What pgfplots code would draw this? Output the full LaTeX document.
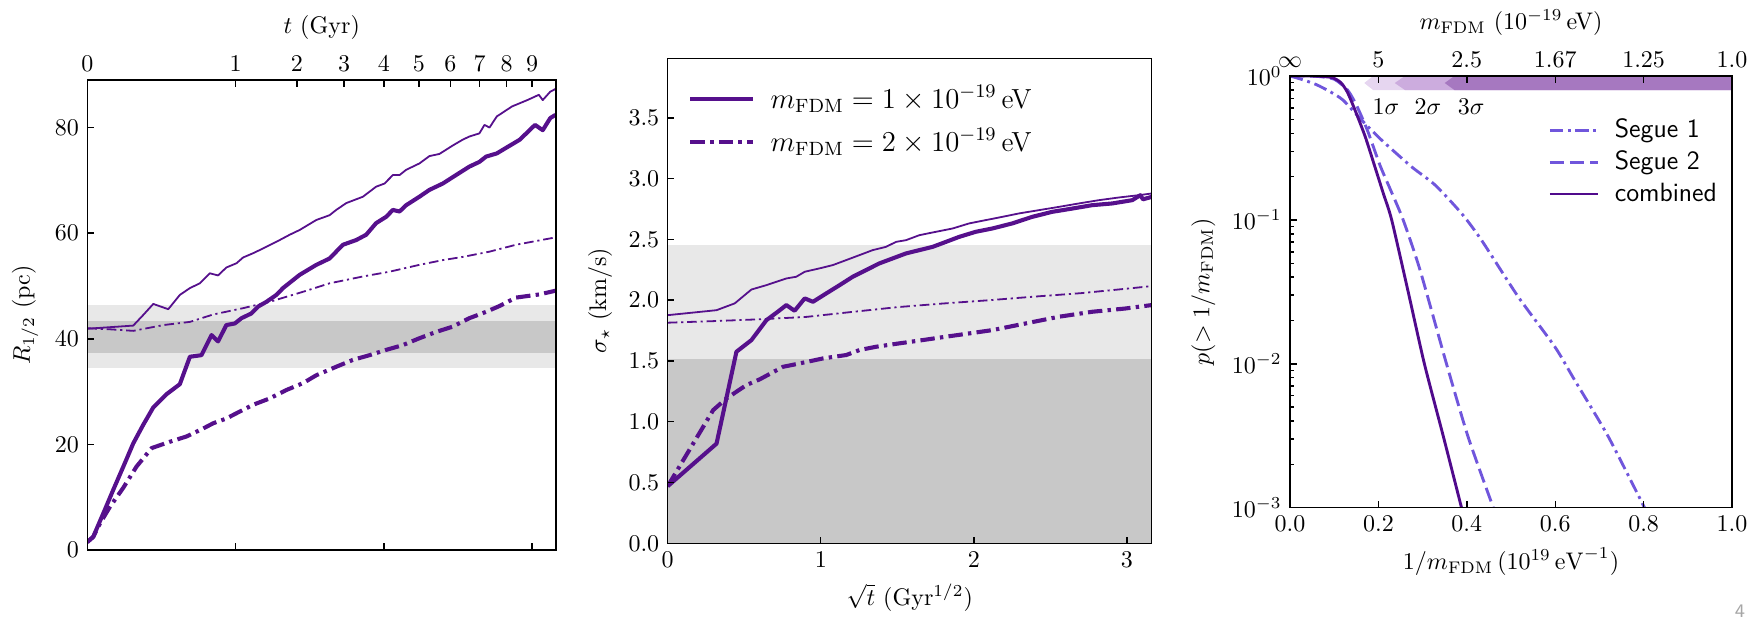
\documentclass[border=0pt]{standalone}
\usepackage{pgfplots}
\pgfplotsset{compat=1.18}
\definecolor{pur}{RGB}{86,16,140}
\definecolor{seg}{RGB}{112,86,220}
\definecolor{comb}{RGB}{80,10,140}
\definecolor{lgray}{RGB}{232,232,232}
\definecolor{dgray}{RGB}{200,200,200}
\definecolor{bandA}{RGB}{230,214,240}
\definecolor{bandB}{RGB}{204,172,222}
\definecolor{bandC}{RGB}{166,120,192}
\pgfplotsset{
  base/.style={
    scale only axis, anchor=south west,
    axis line style={line width=0.6pt},
    every tick/.append style={black, line width=0.6pt},
    major tick length=2.8pt, minor tick length=1.6pt,
    tick align=inside,
  },
}
\tikzset{
  thickS/.style={pur, line width=1.7pt, line join=round},
  thinS/.style={pur, line width=0.75pt, line join=round},
  thickD/.style={pur, line width=1.7pt, dash pattern=on 6pt off 2.2pt on 1.4pt off 2.2pt},
  thinD/.style={pur, line width=0.75pt, dash pattern=on 4pt off 1.6pt on 0.9pt off 1.6pt},
}
\begin{document}
\begin{tikzpicture}
\path[use as bounding box] (0,0) rectangle (733.33pt,257.92pt);
% ---------------- Panel 1 ----------------
\begin{axis}[base, at={(36.38pt,28.75pt)}, width=195.33pt, height=195.83pt,
  xmin=0, xmax=3.16228, ymin=0, ymax=89,
  xtick={1,2,3}, xticklabels={}, xtick pos=bottom,
  ytick={0,20,40,60,80}, ytick pos=left,
  ylabel={$R_{1/2}$ (pc)}, axis on top]
\addplot[fill=lgray, draw=none, forget plot] coordinates {(0,34.5) (3.16228,34.5) (3.16228,46.4) (0,46.4)};
\addplot[fill=dgray, draw=none, forget plot] coordinates {(0,37.4) (3.16228,37.4) (3.16228,43.4) (0,43.4)};
\addplot[thinS] coordinates {(0,41.9) (0.31,42.5) (0.377,44.5) (0.445,46.6) (0.546,45.6) (0.624,48.3) (0.692,49.6) (0.759,50.5) (0.826,52.4) (0.882,52.0) (0.938,53.5) (1.006,54.3) (1.051,55.4) (1.118,56.2) (1.185,57.1) (1.298,58.7) (1.365,59.7) (1.432,60.6) (1.545,62.5) (1.634,63.4) (1.679,64.4) (1.747,65.7) (1.859,66.9) (1.948,68.8) (2.005,69.4) (2.061,71.0) (2.106,71.0) (2.151,72.0) (2.240,73.2) (2.308,74.6) (2.375,75.0) (2.465,76.6) (2.532,77.7) (2.577,78.3) (2.645,78.9) (2.679,80.5) (2.713,80.0) (2.762,82.1) (2.865,84.0) (2.968,85.2) (3.046,86.2) (3.072,85.2) (3.123,86.8) (3.158,87.3)};
\addplot[thinD] coordinates {(0,42.0) (0.15,41.8) (0.31,41.5) (0.514,42.6) (0.692,43.2) (0.849,44.6) (1.051,45.8) (1.230,47.0) (1.455,48.9) (1.634,50.5) (1.859,51.8) (2.038,52.7) (2.240,54.0) (2.398,54.9) (2.532,55.5) (2.713,56.5) (2.891,57.8) (3.158,59.2)};
\addplot[thickD] coordinates {(0,1.5) (0.04,2.5) (0.085,5.0) (0.153,8.2) (0.243,11.8) (0.332,15.8) (0.434,19.3) (0.557,20.5) (0.669,21.5) (0.781,23.0) (0.849,24.0) (0.938,24.9) (1.006,25.9) (1.118,27.5) (1.230,28.7) (1.343,30.3) (1.455,31.6) (1.545,33.1) (1.679,34.7) (1.791,36.0) (1.904,36.9) (2.016,37.9) (2.128,38.8) (2.240,40.1) (2.353,41.3) (2.465,42.3) (2.577,43.9) (2.690,45.1) (2.78,46.2) (2.891,47.8) (3.05,48.4) (3.158,49.1)};
\addplot[thickS] coordinates {(0,1.5) (0.040,2.5) (0.108,6.95) (0.175,11.4) (0.243,15.8) (0.310,20.2) (0.377,23.7) (0.445,27.0) (0.534,29.5) (0.624,31.4) (0.692,36.6) (0.770,36.9) (0.838,40.7) (0.882,39.5) (0.938,42.6) (0.995,42.9) (1.040,43.9) (1.107,44.8) (1.152,46.1) (1.208,47.0) (1.275,48.3) (1.320,49.6) (1.432,52.1) (1.545,54.0) (1.634,55.2) (1.724,57.8) (1.814,58.7) (1.881,59.7) (1.948,61.9) (2.016,63.1) (2.061,64.4) (2.106,64.1) (2.151,65.3) (2.240,66.9) (2.308,68.2) (2.398,69.4) (2.487,71.0) (2.577,72.6) (2.645,73.5) (2.690,74.5) (2.762,75.1) (2.917,77.7) (3.020,80.5) (3.072,79.5) (3.123,81.8) (3.158,82.4)};
\end{axis}
\begin{axis}[base, at={(36.38pt,28.75pt)}, width=195.33pt, height=195.83pt,
  xmin=0, xmax=3.16228, ymin=0, ymax=89,
  axis x line*=top, axis y line=none, xtick align=inside,
  xtick={0,1,1.41421,1.73205,2,2.23607,2.44949,2.64575,2.82843,3},
  xticklabels={$0$,$1$,$2$,$3$,$4$,$5$,$6$,$7$,$8$,$9$},
  xlabel={$t$ (Gyr)}]
\end{axis}
% ---------------- Panel 2 ----------------
\begin{axis}[base, at={(278.21pt,31.54pt)}, width=201.67pt, height=202.08pt,
  xmin=0, xmax=3.16228, ymin=0, ymax=3.99,
  xtick={0,1,2,3}, xtick pos=bottom,
  ytick={0,0.5,1,1.5,2,2.5,3,3.5}, ytick pos=left,
  yticklabel style={/pgf/number format/.cd, fixed, fixed zerofill, precision=1},
  xlabel={$\sqrt{t}$ (Gyr$^{1/2}$)}, ylabel={$\sigma_\star$ (km/s)},
  axis on top,
  legend style={draw=none, fill=none, at={(0.027,0.965)}, anchor=north west, row sep=3pt,
    font=\fontsize{11.5}{13}\selectfont,
    /tikz/every odd column/.append style={column sep=4.5pt}},
  legend cell align=left,
  legend image code/.code={\draw[#1] (0pt,0pt) -- (26pt,0pt);}]
\addplot[fill=lgray, draw=none, forget plot] coordinates {(0,0) (3.16228,0) (3.16228,2.453) (0,2.453)};
\addplot[fill=dgray, draw=none, forget plot] coordinates {(0,0) (3.16228,0) (3.16228,1.513) (0,1.513)};
\addplot[thinS, forget plot] coordinates {(0,1.877) (0.319,1.918) (0.438,1.974) (0.547,2.088) (0.645,2.124) (0.775,2.179) (0.840,2.193) (0.895,2.234) (0.992,2.262) (1.079,2.289) (1.166,2.330) (1.253,2.371) (1.339,2.412) (1.426,2.439) (1.492,2.48) (1.557,2.494) (1.644,2.535) (1.753,2.563) (1.861,2.59) (1.970,2.632) (2.078,2.659) (2.187,2.686) (2.295,2.714) (2.426,2.741) (2.556,2.768) (2.686,2.796) (2.817,2.823) (2.947,2.845) (3.077,2.864) (3.162,2.878)};
\addplot[thinD, forget plot] coordinates {(0,1.815) (0.3,1.828) (0.6,1.843) (0.9,1.862) (1.2,1.903) (1.5,1.943) (1.8,1.973) (2.1,2.0) (2.4,2.03) (2.7,2.058) (3.0,2.095) (3.162,2.116)};
\addplot[thickS] coordinates {(0,0.47) (0.319,0.82) (0.449,1.576) (0.547,1.672) (0.645,1.836) (0.720,1.906) (0.775,1.96) (0.829,1.913) (0.895,2.015) (0.949,1.987) (1.036,2.056) (1.123,2.124) (1.209,2.193) (1.296,2.248) (1.383,2.303) (1.470,2.344) (1.557,2.385) (1.644,2.412) (1.731,2.439) (1.818,2.48) (1.904,2.521) (2.013,2.563) (2.121,2.59) (2.252,2.632) (2.382,2.686) (2.512,2.727) (2.643,2.754) (2.774,2.782) (2.904,2.796) (3.035,2.823) (3.088,2.864) (3.105,2.83) (3.162,2.85)};
\addlegendentry{$m_{\rm FDM} = 1\times10^{-19}\,$eV}
\addplot[thickD] coordinates {(0,0.47) (0.297,1.096) (0.384,1.192) (0.514,1.302) (0.601,1.349) (0.753,1.452) (0.862,1.48) (1.014,1.521) (1.166,1.549) (1.253,1.590) (1.361,1.617) (1.513,1.645) (1.666,1.672) (1.818,1.70) (1.904,1.715) (2.121,1.754) (2.339,1.809) (2.556,1.864) (2.774,1.905) (2.991,1.932) (3.162,1.96)};
\addlegendentry{$m_{\rm FDM} = 2\times10^{-19}\,$eV}
\end{axis}
% ---------------- Panel 3 ----------------
\begin{axis}[base, at={(537.5pt,46.38pt)}, width=184.17pt, height=179.88pt,
  xmin=0, xmax=1, ymode=log, ymin=1e-3, ymax=1,
  xtick={0,0.2,0.4,0.6,0.8,1.0}, xtick pos=bottom, ytick pos=left,
  xticklabel style={/pgf/number format/.cd, fixed, fixed zerofill, precision=1},
  ytick={1e-3,1e-2,1e-1,1},
  xlabel={$1/m_{\rm FDM}\,(10^{19}\,\mathrm{eV}^{-1})$},
  ylabel={$p(>1/m_{\rm FDM})$},
  axis on top,
  legend style={draw=none, fill=none, at={(0.567,0.924)}, anchor=north west, row sep=0pt,
    font=\sffamily\fontsize{11}{13}\selectfont,
    /tikz/every odd column/.append style={column sep=4.5pt}},
  legend cell align=left,
  legend image code/.code={\draw[#1] (0pt,0pt) -- (20pt,0pt);}]
\addplot[fill=bandA, draw=none, forget plot] coordinates {(0.168,0.894) (0.188,1) (1,1) (1,0.799) (0.188,0.799) (0.168,0.894)};
\addplot[fill=bandB, draw=none, forget plot] coordinates {(0.237,0.894) (0.26,1) (1,1) (1,0.799) (0.26,0.799) (0.237,0.894)};
\addplot[fill=bandC, draw=none, forget plot] coordinates {(0.350,0.894) (0.372,1) (1,1) (1,0.799) (0.372,0.799) (0.350,0.894)};
\addplot[seg, line width=1.2pt, smooth, tension=0.4, dash pattern=on 5.5pt off 2pt on 1.2pt off 2pt] coordinates {(0,1.0) (0.03,0.94) (0.06,0.87) (0.09,0.78) (0.12,0.68) (0.162,0.494) (0.207,0.359) (0.275,0.234) (0.328,0.175) (0.388,0.111) (0.433,0.0725) (0.516,0.0293) (0.599,0.01315) (0.644,0.0077) (0.720,0.00312) (0.802,0.001)};
\addlegendentry{Segue 1}
\addplot[seg, line width=1.2pt, smooth, tension=0.4, dash pattern=on 6pt off 2.4pt] coordinates {(0,1.0) (0.06,0.995) (0.1,0.95) (0.13,0.80) (0.15,0.63) (0.175,0.42) (0.2035,0.24) (0.23,0.155) (0.256,0.1) (0.294,0.045) (0.354,0.01) (0.403,0.0031) (0.46,0.001)};
\addlegendentry{Segue 2}
\addplot[comb, line width=1.2pt, smooth, tension=0.4] coordinates {(0,1.0) (0.06,0.998) (0.095,0.975) (0.115,0.9) (0.13,0.77) (0.147,0.58) (0.170,0.38) (0.192,0.234) (0.211,0.153) (0.230,0.1) (0.268,0.031) (0.304,0.01) (0.347,0.00312) (0.388,0.001)};
\addlegendentry{combined}
\node at (axis cs:0.217,0.612) {$1\sigma$};
\node at (axis cs:0.312,0.612) {$2\sigma$};
\node at (axis cs:0.41,0.612) {$3\sigma$};
\end{axis}
\begin{axis}[base, at={(537.5pt,46.38pt)}, width=184.17pt, height=179.88pt,
  xmin=0, xmax=1, ymode=log, ymin=1e-3, ymax=1,
  axis x line*=top, axis y line=none, xtick align=inside,
  xtick={0,0.2,0.4,0.6,0.8,1.0}, xticklabels={$\infty$,$5$,$2.5$,$1.67$,$1.25$,$1.0$},
  xlabel={$m_{\rm FDM}$ ($10^{-19}\,$eV)}]
\end{axis}
\node[text=gray!70, font=\sffamily\footnotesize, anchor=south, inner sep=0pt] at (725pt,0.6pt) {4};
\end{tikzpicture}
\end{document}
